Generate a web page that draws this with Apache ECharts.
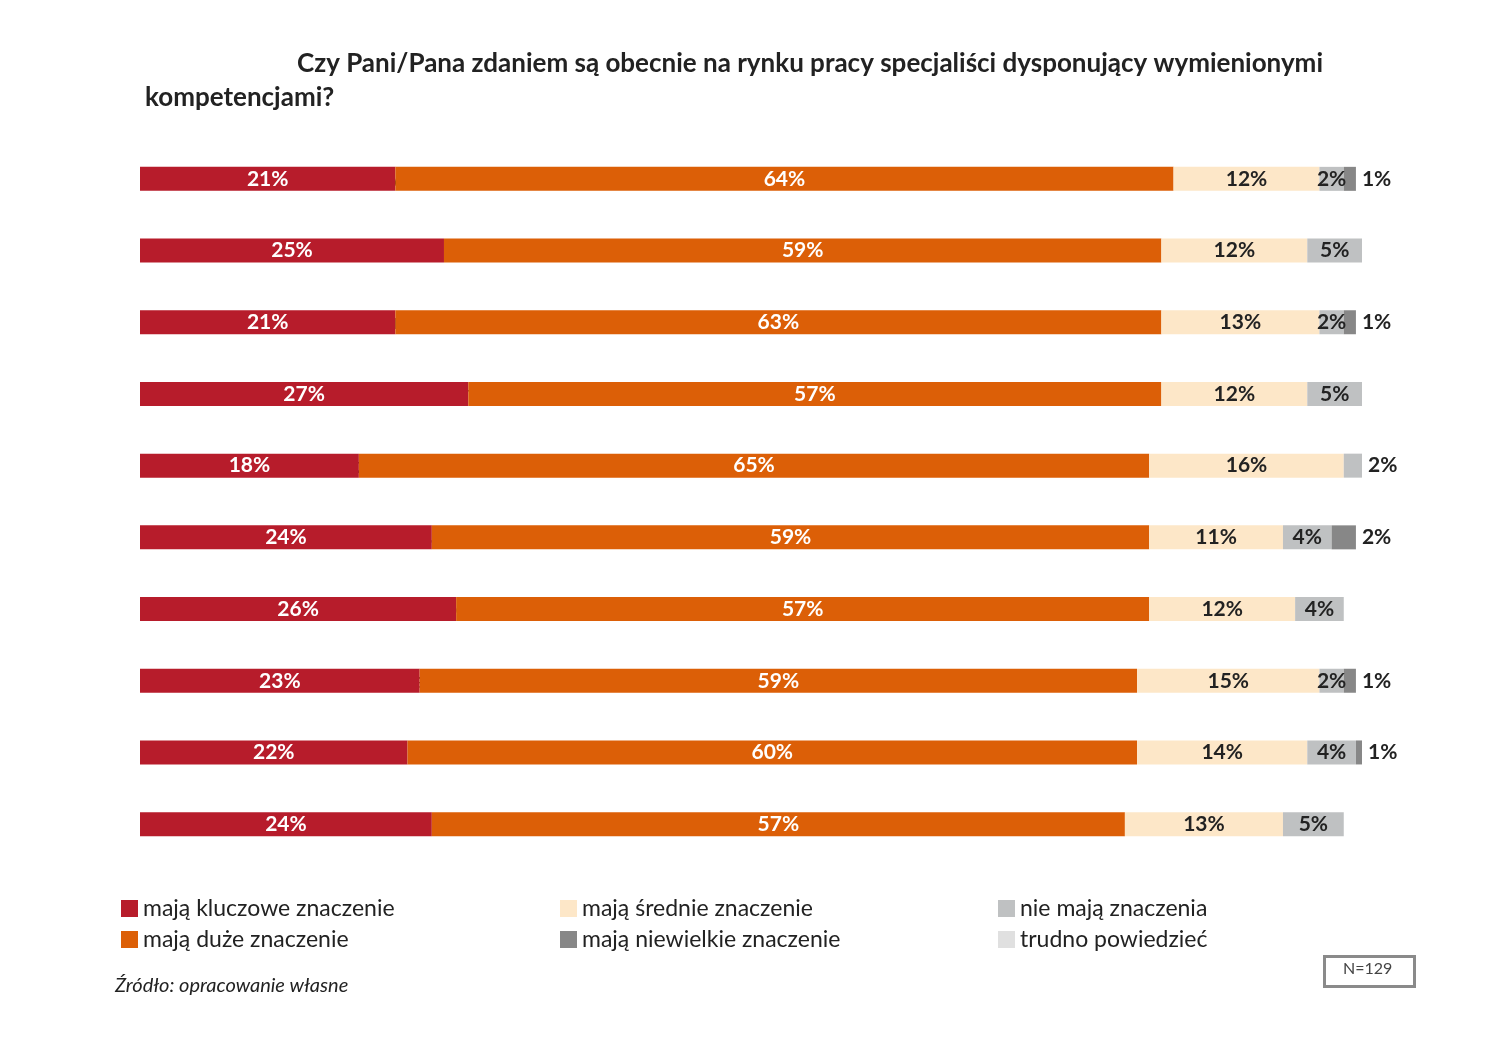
<!DOCTYPE html>
<html><head><meta charset="utf-8">
<script src="https://cdn.jsdelivr.net/npm/echarts@6/dist/echarts.min.js"></script>
<style>html,body{margin:0;padding:0;background:#fff}#c{width:1494px;height:1064px}</style>
</head><body><div id="c"></div>
<script>
const categories = [
 "obsługa klienta, w tym również świadczenie usług pomocy technicznej, w trybie zdalnym",
 "zarządzanie zasobami danych",
 "implementowanie, konfigurowanie, administrowanie i zabezpieczanie systemów obiegu dokumentów",
 "tworzenie i wdrażanie nowych metod zapewnienia ciągłości działania firmy w sytuacji nagłych zagrożeń",
 "tworzenie, rozwój i zarządzanie oprogramowaniem",
 "implementowanie, konfigurowanie, administrowanie i zabezpieczanie platform e-learningowych",
 "automatyzacja i robotyzacja procesów",
 "zarządzanie procesami ICT na styku technologii i biznesu",
 "zarządzanie zmianą",
 "integracja systemów"
];
const kluczowe   = [21,25,21,27,18,24,26,23,22,24];
const duze       = [64,59,63,57,65,59,57,59,60,57];
const srednie    = [12,12,13,12,16,11,12,15,14,13];
const nieMaja    = [2,5,2,5,2,4,4,2,4,5];
const niewielkie = [1,0,1,0,0,2,0,1,1,0];
const trudno     = [0,0,0,0,0,0,0,0,0,0];

const seriesDefs = [
 {name:"mają kluczowe znaczenie", data:kluczowe, color:"#b71c2b", lc:"#fff"},
 {name:"mają duże znaczenie", data:duze, color:"#dc5f07", lc:"#fff"},
 {name:"mają średnie znaczenie", data:srednie, color:"#fde7c8", lc:"#222"},
 {name:"nie mają znaczenia", data:nieMaja, color:"#bfc1c2", lc:"#222"},
 {name:"mają niewielkie znaczenie", data:niewielkie, color:"#878787", lc:"#222"},
 {name:"trudno powiedzieć", data:trudno, color:"#e0e0e0", lc:"#222"}
];
const all = seriesDefs.map(s=>s.data);
function isLast(si,i){ for(let k=si+1;k<all.length;k++) if(all[k][i]>0) return false; return true; }

const font = "Lato";
const series = seriesDefs.map((s,si)=>({
 name:s.name, type:'bar', stack:'a', barWidth:24, itemStyle:{color:s.color},
 label:{show:true, position:'inside', color:s.lc, fontFamily:font, fontWeight:'bold', fontSize:21,
   formatter:p=>p.value>0?p.value+'%':''},
 data:s.data.map((v,i)=>(v>0 && v<=2 && isLast(si,i) && si>=3) ?
   {value:v, label:{position:'right', distance:6, color:'#222'}} : v)
}));

const legendCommon = {orient:'vertical', itemWidth:17, itemHeight:17, itemGap:8, icon:'rect',
 textStyle:{fontFamily:font, fontSize:23, color:'#222'}, top:892, selectedMode:false};

const chart = echarts.init(document.getElementById('c'));
chart.setOption({
 animation:false,
 title:[
  {text:"Czy Pani/Pana zdaniem są obecnie na rynku pracy specjaliści dysponujący wymienionymi", left:292, top:46,
   textStyle:{fontFamily:font, fontWeight:'bold', fontSize:26, color:'#222'}},
  {text:"kompetencjami?", left:140, top:80, textStyle:{fontFamily:font, fontWeight:'bold', fontSize:26, color:'#222'}}
 ],
 legend:[
  Object.assign({left:116, data:[seriesDefs[0].name, seriesDefs[1].name]}, legendCommon),
  Object.assign({left:555, data:[seriesDefs[2].name, seriesDefs[4].name]}, legendCommon),
  Object.assign({left:993, data:[seriesDefs[3].name, seriesDefs[5].name]}, legendCommon)
 ],
 grid:{left:140, right:132, top:143, bottom:204},
 xAxis:{type:'value', min:0, max:100.5, show:false},
 yAxis:{type:'category', data:categories, inverse:true,
  axisLine:{show:false}, axisTick:{show:false},
  axisLabel:{show:true, interval:0, hideOverlap:false, inside:false, align:'left', verticalAlign:'middle', margin:0,
   padding:[0,0,64,0], fontFamily:font, fontSize:22, color:'#222'}},
 series:series,
 graphic:[
  {type:'rect', left:1323, top:955, shape:{width:90, height:30}, style:{fill:'#fff', stroke:'#8a8a8a', lineWidth:3}},
  {type:'text', left:1343, top:961, style:{text:'N=129', fontFamily:font, fontSize:16, fill:'#444'}},
  {type:'text', left:115, top:976, style:{text:'Źródło: opracowanie własne', fontFamily:font, fontStyle:'italic', fontSize:20, fill:'#222'}}
 ]
});
</script></body></html>
